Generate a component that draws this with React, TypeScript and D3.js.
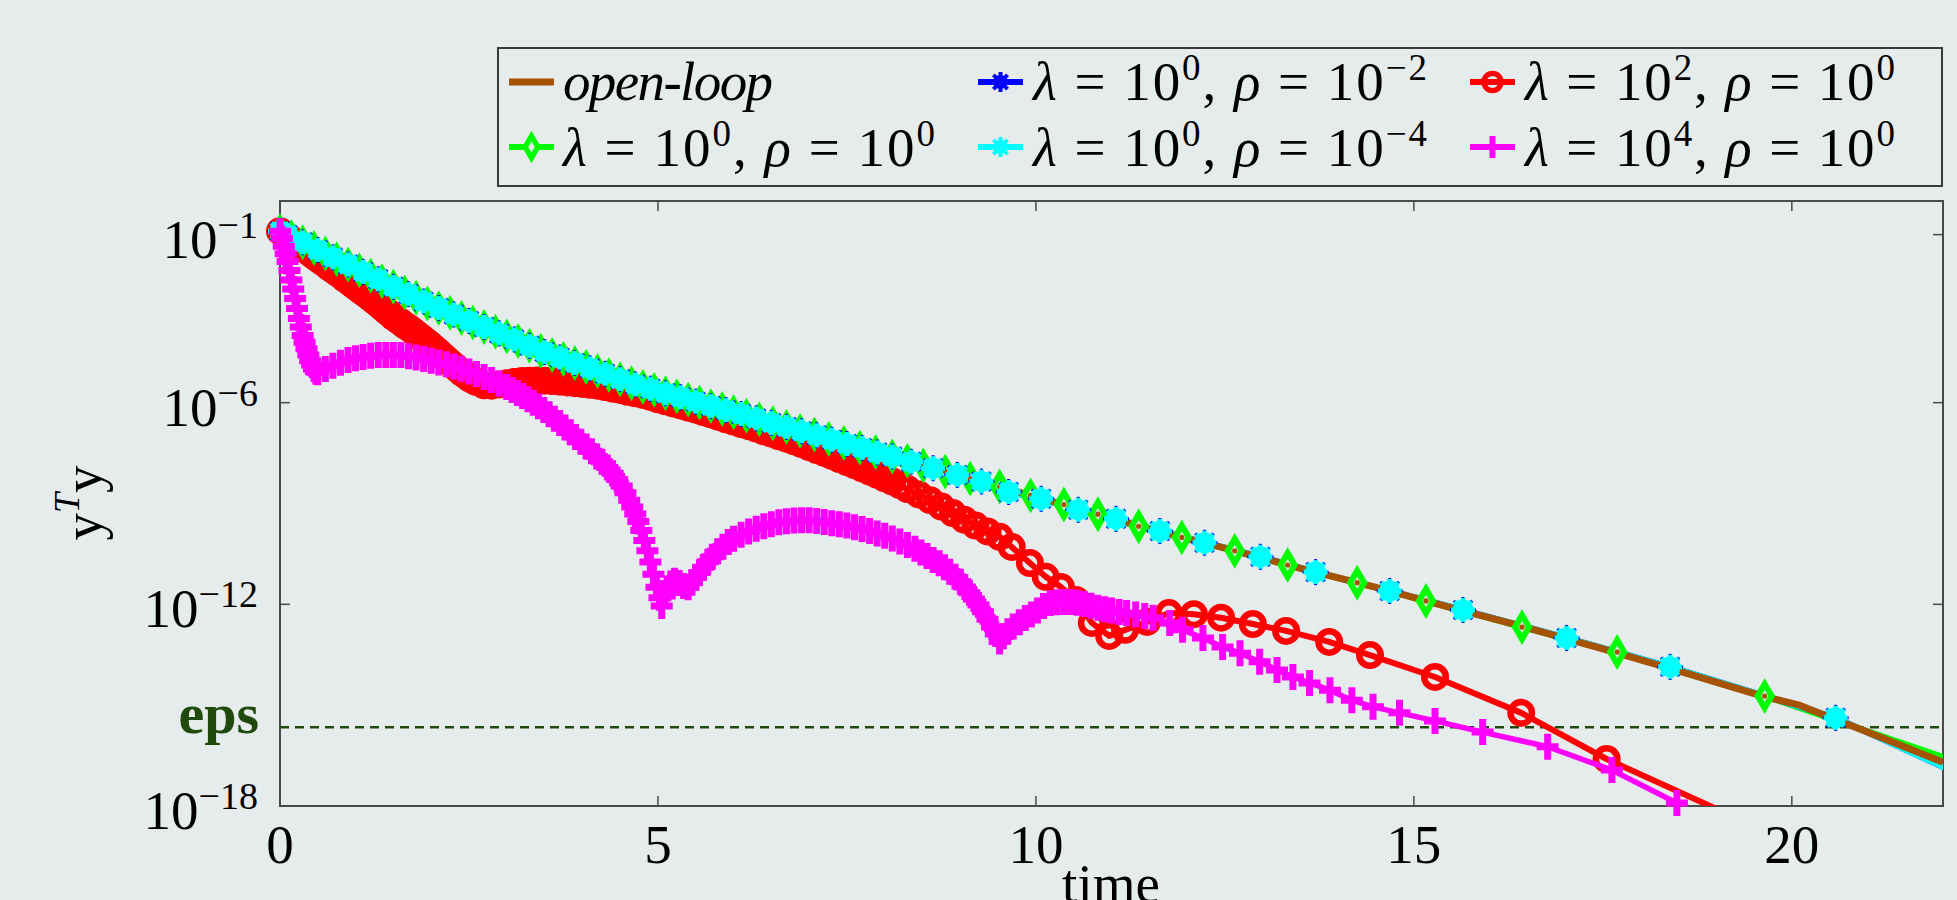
import React from "react";
import * as d3 from "d3";

// ---- data ----
const xTicks = [0, 5, 10, 15, 20];
const yTicks = [1e-1, 1e-6, 1e-12, 1e-18];
const yTickLabels = ["\u22121", "\u22126", "\u221212", "\u221218"];
const epsValue = 2.22e-16;

// open-loop (line only)
const openLoopT = [0, 0.5, 1, 1.5, 2, 2.5, 3, 3.5, 4, 4.5, 4.76, 5.5, 6.5, 7.5, 8.5, 9.5, 10.5, 11.5, 12.5, 13.5, 14.5, 15.5, 16.5, 17.5, 18.5, 19.6, 20.1, 21, 22];
const openLoopY = [0.126, 3.5e-2, 1.0e-2, 2.8e-3, 7.9e-4, 2.7e-4, 9.3e-5, 3.2e-5, 1.26e-5, 5.0e-6, 3.2e-6, 1.07e-6, 2.5e-7, 5.9e-8, 1.38e-8, 3.2e-9, 7.6e-10, 1.74e-10, 4.7e-11, 1.17e-11, 3.2e-12, 7.9e-13, 2.0e-13, 4.7e-14, 1.05e-14, 1.9e-15, 1.0e-15, 1.58e-16, 2.0e-17];

// lambda = 1, rho = 1 (green diamonds)
const rho0T = [0, 0.15, 0.3, 0.45, 0.6, 0.75, 0.9, 1.05, 1.2, 1.35, 1.5, 1.65, 1.8, 1.95, 2.1, 2.25, 2.4, 2.55, 2.7, 2.85, 3.0, 3.15, 3.3, 3.45, 3.6, 3.75, 3.9, 4.05, 4.2, 4.35, 4.5, 4.65, 4.8, 4.95, 5.1, 5.25, 5.4, 5.55, 5.7, 5.85, 6.0, 6.17, 6.34, 6.52, 6.7, 6.88, 7.07, 7.26, 7.46, 7.67, 7.88, 8.1, 8.3, 8.51, 8.8, 9.13, 9.52, 9.93, 10.37, 10.82, 11.36, 11.93, 12.63, 13.33, 14.25, 15.16, 16.43, 17.69, 19.64, 22.4];
const rho0Y = [0.126, 8.5e-2, 5.9e-2, 4.0e-2, 2.75e-2, 1.86e-2, 1.29e-2, 8.7e-3, 6.0e-3, 4.1e-3, 2.8e-3, 1.9e-3, 1.32e-3, 8.9e-4, 6.5e-4, 4.7e-4, 3.3e-4, 2.4e-4, 1.78e-4, 1.29e-4, 9.3e-5, 6.8e-5, 4.9e-5, 3.5e-5, 2.6e-5, 2.0e-5, 1.51e-5, 1.15e-5, 8.7e-6, 6.6e-6, 5.0e-6, 3.8e-6, 2.95e-6, 2.4e-6, 1.9e-6, 1.55e-6, 1.23e-6, 1.0e-6, 7.9e-7, 6.5e-7, 5.2e-7, 4.1e-7, 3.2e-7, 2.45e-7, 1.9e-7, 1.45e-7, 1.12e-7, 8.3e-8, 6.3e-8, 4.6e-8, 3.4e-8, 2.5e-8, 1.86e-8, 1.35e-8, 8.9e-9, 5.5e-9, 3.2e-9, 1.74e-9, 9.3e-10, 4.8e-10, 2.1e-10, 9.8e-11, 3.9e-11, 1.48e-11, 4.4e-12, 1.26e-12, 2.1e-13, 3.8e-14, 1.86e-15, 1.41e-17];

// lambda = 1, rho = 1e-4 (cyan)
const rho4T = [0, 0.1, 0.3, 0.5, 0.7, 0.9, 1.1, 1.3, 1.5, 1.7, 1.9, 2.1, 2.3, 2.5, 2.7, 2.9, 3.1, 3.3, 3.5, 3.7, 3.9, 4.1, 4.3, 4.5, 4.7, 4.9, 5.1, 5.3, 5.5, 5.7, 5.9, 6.1, 6.3, 6.5, 6.7, 6.9, 7.1, 7.3, 7.5, 7.7, 7.9, 8.1, 8.35, 8.64, 8.96, 9.28, 9.64, 10.07, 10.56, 11.06, 11.64, 12.23, 12.97, 13.7, 14.68, 15.65, 17.02, 18.39, 20.58, 22.4];
const rho4Y = [0.126, 9.8e-2, 5.9e-2, 3.5e-2, 2.1e-2, 1.29e-2, 7.8e-3, 4.7e-3, 2.8e-3, 1.7e-3, 1.02e-3, 6.5e-4, 4.2e-4, 2.7e-4, 1.78e-4, 1.15e-4, 7.6e-5, 4.9e-5, 3.2e-5, 2.2e-5, 1.51e-5, 1.05e-5, 7.2e-6, 5.0e-6, 3.5e-6, 2.6e-6, 1.9e-6, 1.45e-6, 1.07e-6, 7.9e-7, 6.0e-7, 4.6e-7, 3.4e-7, 2.5e-7, 1.9e-7, 1.41e-7, 1.07e-7, 7.9e-8, 5.9e-8, 4.5e-8, 3.3e-8, 2.5e-8, 1.74e-8, 1.12e-8, 7.1e-9, 4.5e-9, 2.2e-9, 1.38e-9, 6.5e-10, 3.5e-10, 1.51e-10, 6.8e-11, 2.6e-11, 9.1e-12, 2.5e-12, 6.8e-13, 1.0e-13, 1.38e-14, 4.2e-16, 5.6e-18];

// lambda = 1, rho = 1e-2 (blue) lies exactly under the rho = 1e-4 curve in the figure
const rho2T = rho4T;
const rho2Y = rho4Y;

// lambda = 1e2, rho = 1 (red circles)
const lam2T = [0, 0.05, 0.1, 0.15, 0.2, 0.25, 0.3, 0.35, 0.4, 0.45, 0.5, 0.55, 0.6, 0.65, 0.7, 0.75, 0.8, 0.85, 0.9, 0.95, 1.0, 1.05, 1.1, 1.15, 1.2, 1.25, 1.3, 1.35, 1.4, 1.45, 1.5, 1.55, 1.6, 1.65, 1.7, 1.75, 1.8, 1.85, 1.9, 1.95, 2.0, 2.05, 2.1, 2.15, 2.2, 2.25, 2.3, 2.35, 2.4, 2.45, 2.5, 2.55, 2.6, 2.7, 2.8, 2.9, 3.0, 3.1, 3.2, 3.3, 3.4, 3.5, 3.6, 3.7, 3.8, 3.9, 4.0, 4.1, 4.2, 4.3, 4.4, 4.5, 4.6, 4.7, 4.8, 4.9, 5.0, 5.1, 5.2, 5.3, 5.4, 5.5, 5.6, 5.7, 5.8, 5.9, 6.0, 6.1, 6.2, 6.3, 6.4, 6.5, 6.6, 6.7, 6.8, 6.9, 7.0, 7.1, 7.2, 7.3, 7.4, 7.5, 7.6, 7.7, 7.8, 7.9, 8.0, 8.1, 8.2, 8.3, 8.45, 8.6, 8.75, 8.9, 9.05, 9.2, 9.36, 9.52, 9.68, 9.92, 10.13, 10.33, 10.53, 10.74, 10.97, 11.18, 11.47, 11.76, 12.09, 12.45, 12.87, 13.31, 13.88, 14.42, 15.28, 16.42, 17.55, 19.8];
const lam2Y = [0.126, 1.05e-1, 8.7e-2, 7.2e-2, 6.0e-2, 5.0e-2, 4.2e-2, 3.4e-2, 2.8e-2, 2.3e-2, 1.9e-2, 1.58e-2, 1.32e-2, 1.07e-2, 8.9e-3, 7.4e-3, 6.2e-3, 5.0e-3, 4.2e-3, 3.4e-3, 2.8e-3, 2.3e-3, 1.9e-3, 1.58e-3, 1.29e-3, 1.05e-3, 8.5e-4, 6.9e-4, 5.5e-4, 4.5e-4, 3.5e-4, 2.95e-4, 2.45e-4, 2.0e-4, 1.7e-4, 1.41e-4, 1.15e-4, 9.3e-5, 7.6e-5, 6.2e-5, 5.0e-5, 4.0e-5, 3.2e-5, 2.5e-5, 2.0e-5, 1.58e-5, 1.26e-5, 1.0e-5, 7.9e-6, 6.6e-6, 5.4e-6, 4.7e-6, 4.1e-6, 3.3e-6, 3.2e-6, 3.5e-6, 3.8e-6, 4.1e-6, 4.4e-6, 4.5e-6, 4.6e-6, 4.5e-6, 4.4e-6, 4.2e-6, 4.0e-6, 3.8e-6, 3.6e-6, 3.4e-6, 3.2e-6, 2.9e-6, 2.6e-6, 2.4e-6, 2.1e-6, 1.9e-6, 1.7e-6, 1.48e-6, 1.26e-6, 1.1e-6, 9.5e-7, 8.3e-7, 7.1e-7, 6.2e-7, 5.2e-7, 4.5e-7, 3.8e-7, 3.2e-7, 2.75e-7, 2.3e-7, 2.0e-7, 1.7e-7, 1.41e-7, 1.2e-7, 1.0e-7, 8.5e-8, 7.1e-8, 5.9e-8, 4.8e-8, 3.9e-8, 3.2e-8, 2.6e-8, 2.1e-8, 1.7e-8, 1.38e-8, 1.12e-8, 8.9e-9, 7.1e-9, 5.6e-9, 4.5e-9, 3.5e-9, 2.7e-9, 1.86e-9, 1.26e-9, 8.1e-10, 5.2e-10, 3.3e-10, 2.2e-10, 1.48e-10, 1.02e-10, 5.1e-11, 1.7e-11, 6.6e-12, 3.3e-12, 1.35e-12, 2.8e-13, 1.15e-13, 1.74e-13, 3.0e-13, 5.5e-13, 5.1e-13, 4.0e-13, 2.6e-13, 1.62e-13, 7.6e-14, 3.1e-14, 6.9e-15, 5.9e-16, 2.5e-17, 1.26e-19];

// lambda = 1e4, rho = 1 (magenta plus)
const lam4T = [0, 0.025, 0.05, 0.075, 0.1, 0.125, 0.15, 0.175, 0.2, 0.225, 0.25, 0.275, 0.3, 0.325, 0.35, 0.375, 0.4, 0.425, 0.45, 0.475, 0.5, 0.6, 0.7, 0.8, 0.9, 1.0, 1.1, 1.2, 1.3, 1.4, 1.5, 1.6, 1.7, 1.8, 1.9, 2.0, 2.1, 2.2, 2.3, 2.4, 2.5, 2.6, 2.7, 2.8, 2.9, 3.0, 3.07, 3.14, 3.21, 3.28, 3.35, 3.42, 3.49, 3.56, 3.63, 3.7, 3.77, 3.84, 3.91, 3.98, 4.05, 4.12, 4.19, 4.26, 4.33, 4.4, 4.46, 4.52, 4.57, 4.62, 4.66, 4.7, 4.74, 4.78, 4.82, 4.86, 4.9, 4.94, 4.98, 5.02, 5.05, 5.09, 5.13, 5.17, 5.22, 5.28, 5.34, 5.4, 5.45, 5.5, 5.55, 5.6, 5.66, 5.72, 5.79, 5.86, 5.93, 6.0, 6.1, 6.2, 6.3, 6.4, 6.5, 6.6, 6.7, 6.8, 6.9, 7.0, 7.1, 7.2, 7.3, 7.4, 7.5, 7.6, 7.7, 7.8, 7.9, 8.0, 8.1, 8.2, 8.3, 8.4, 8.48, 8.56, 8.64, 8.72, 8.79, 8.86, 8.93, 9.0, 9.06, 9.12, 9.18, 9.24, 9.3, 9.36, 9.42, 9.47, 9.52, 9.57, 9.63, 9.7, 9.78, 9.86, 9.94, 10.02, 10.1, 10.19, 10.28, 10.37, 10.46, 10.55, 10.64, 10.73, 10.82, 10.91, 11.0, 11.1, 11.2, 11.32, 11.44, 11.55, 11.77, 11.94, 12.21, 12.47, 12.7, 12.96, 13.19, 13.4, 13.62, 13.89, 14.18, 14.46, 14.81, 15.28, 15.91, 16.77, 17.62, 18.48, 19.4];
const lam4Y = [0.126, 7.6e-2, 4.5e-2, 2.7e-2, 1.58e-2, 8.5e-3, 4.5e-3, 2.4e-3, 1.26e-3, 6.3e-4, 3.2e-4, 1.78e-4, 1.0e-4, 6.3e-5, 4.0e-5, 2.6e-5, 1.78e-5, 1.32e-5, 1.0e-5, 8.3e-6, 8.1e-6, 1.0e-5, 1.26e-5, 1.55e-5, 1.86e-5, 2.1e-5, 2.3e-5, 2.5e-5, 2.6e-5, 2.6e-5, 2.6e-5, 2.6e-5, 2.4e-5, 2.2e-5, 2.0e-5, 1.78e-5, 1.58e-5, 1.38e-5, 1.2e-5, 1.02e-5, 8.5e-6, 7.1e-6, 5.8e-6, 4.7e-6, 3.7e-6, 2.9e-6, 2.4e-6, 1.95e-6, 1.58e-6, 1.26e-6, 1.0e-6, 7.8e-7, 6.0e-7, 4.5e-7, 3.3e-7, 2.5e-7, 1.82e-7, 1.32e-7, 9.5e-8, 6.9e-8, 5.0e-8, 3.6e-8, 2.5e-8, 1.74e-8, 1.17e-8, 7.9e-9, 5.2e-9, 3.3e-9, 2.1e-9, 1.26e-9, 7.9e-10, 4.9e-10, 2.9e-10, 1.58e-10, 7.9e-11, 3.9e-11, 1.82e-11, 7.9e-12, 3.2e-12, 1.58e-12, 8.9e-13, 1.78e-12, 3.0e-12, 4.2e-12, 5.0e-12, 4.3e-12, 3.5e-12, 3.2e-12, 4.4e-12, 6.3e-12, 8.9e-12, 1.26e-11, 1.86e-11, 2.6e-11, 3.8e-11, 5.2e-11, 7.1e-11, 8.9e-11, 1.17e-10, 1.48e-10, 1.78e-10, 2.1e-10, 2.4e-10, 2.75e-10, 2.95e-10, 3.1e-10, 3.2e-10, 3.2e-10, 3.0e-10, 2.8e-10, 2.6e-10, 2.4e-10, 2.2e-10, 1.95e-10, 1.74e-10, 1.51e-10, 1.29e-10, 1.1e-10, 9.1e-11, 7.4e-11, 5.8e-11, 4.5e-11, 3.5e-11, 2.75e-11, 2.1e-11, 1.66e-11, 1.26e-11, 9.3e-12, 6.6e-12, 4.7e-12, 3.3e-12, 2.2e-12, 1.45e-12, 9.5e-13, 6.0e-13, 3.6e-13, 2.1e-13, 1.32e-13, 7.9e-14, 1.12e-13, 1.58e-13, 2.2e-13, 2.95e-13, 3.9e-13, 5.0e-13, 6.6e-13, 8.9e-13, 1.1e-12, 1.15e-12, 1.17e-12, 1.17e-12, 1.12e-12, 1.02e-12, 9.1e-13, 7.9e-13, 7.1e-13, 6.5e-13, 5.9e-13, 5.5e-13, 5.0e-13, 4.5e-13, 4.0e-13, 2.8e-13, 1.74e-13, 1.0e-13, 5.4e-14, 3.5e-14, 1.95e-14, 1.12e-14, 6.9e-15, 4.6e-15, 2.8e-15, 1.41e-15, 8.9e-16, 5.9e-16, 3.4e-16, 1.58e-16, 5.8e-17, 1.17e-17, 1.23e-18, 1.0e-19];

// ---- look ----
const BG = "#e6ecec";
const BROWN = "#a65300";
const GREEN = "#00ff00";
const BLUE = "#0000ff";
const CYAN = "#00ffff";
const RED = "#ff0000";
const MAGENTA = "#ff00ff";
const EPS_GREEN = "#1f4a0c";
const FONT = "'Liberation Serif', 'Times New Roman', serif";

const W = 1957, H = 900;
const plot = { left: 280, right: 1943, top: 201, bottom: 806 };

const x = d3.scaleLinear().domain([0, 22]).range([plot.left, plot.right]);
const y = d3.scaleLog().domain([1e-18, 1]).range([plot.bottom, plot.top]);

const pathOf = (ts: number[], ys: number[]) =>
  d3.line<number>().x((i) => x(ts[i])).y((i) => y(ys[i]))(d3.range(ts.length)) || "";

const inside = (t: number, v: number) => t >= 0 && t <= 22 && v >= 1e-18 && v <= 1;

// marker shapes
function Diamond({ cx, cy, k = 1, dot = true }: any) {
  return (
    <g>
      <path d={`M${cx},${cy - 12 * k}L${cx + 7 * k},${cy}L${cx},${cy + 12 * k}L${cx - 7 * k},${cy}Z`}
        fill={BG} stroke={GREEN} strokeWidth={6 * k} />
      {dot && <circle cx={cx} cy={cy} r={2.6} fill={BROWN} />}
    </g>
  );
}

function Star({ cx, cy, r, w, color, blob = 0 }: any) {
  const a = [0, 45, 90, 135].map((d) => (d * Math.PI) / 180);
  return (
    <g>
      {blob > 0 && <circle cx={cx} cy={cy} r={blob} fill={color} />}
      {a.map((ang, i) => (
        <line key={i} x1={cx - r * Math.cos(ang)} y1={cy - r * Math.sin(ang)}
          x2={cx + r * Math.cos(ang)} y2={cy + r * Math.sin(ang)} stroke={color} strokeWidth={w} />
      ))}
    </g>
  );
}

function Ring({ cx, cy, k = 1 }: any) {
  return <circle cx={cx} cy={cy} r={10.75 * k} fill="none" stroke={RED} strokeWidth={6.5 * k} />;
}

function Plus({ cx, cy, k = 1 }: any) {
  return (
    <path d={`M${cx - 11 * k},${cy}H${cx + 11 * k}M${cx},${cy - 13 * k}V${cy + 13 * k}`}
      stroke={MAGENTA} strokeWidth={7 * k} fill="none" />
  );
}

function marks(ts: number[], ys: number[], draw: (cx: number, cy: number) => any) {
  return ts.map((t, i) => (inside(t, ys[i]) ? <g key={i}>{draw(x(t), y(ys[i]))}</g> : null));
}

function MathLabel({ px, py, lam, rho, len }: any) {
  return (
    <text x={px} y={py} fontSize={55} fontFamily={FONT} fill="#000" textLength={len} lengthAdjust="spacing">
      <tspan fontStyle="italic">λ</tspan>
      <tspan>{" = 10"}</tspan>
      <tspan dy={-20} fontSize={37}>{lam}</tspan>
      <tspan dy={20}>{", "}</tspan>
      <tspan fontStyle="italic">ρ</tspan>
      <tspan>{" = 10"}</tspan>
      <tspan dy={-20} fontSize={37}>{rho}</tspan>
    </text>
  );
}

export default function App() {
  const row1 = 100, row2 = 166;
  const col = [509, 978, 1470];
  const seg = 45;
  const my1 = row1 - 18, my2 = row2 - 19;

  return (
    <svg width={W} height={H} style={{ position: "absolute", left: 0, top: 0 }} fontFamily={FONT}>
      <rect width={W} height={H} fill={BG} />
      <defs>
        <clipPath id="plotClip">
          <rect x={plot.left} y={plot.top} width={plot.right - plot.left} height={plot.bottom - plot.top} />
        </clipPath>
      </defs>

      {/* axes box */}
      <rect x={plot.left} y={plot.top} width={plot.right - plot.left} height={plot.bottom - plot.top}
        fill="none" stroke="#4a4a4a" strokeWidth={2} />
      {xTicks.map((t) => (
        <g key={t}>
          <line x1={x(t)} x2={x(t)} y1={plot.bottom} y2={plot.bottom - 10} stroke="#4a4a4a" strokeWidth={1.5} />
          <line x1={x(t)} x2={x(t)} y1={plot.top} y2={plot.top + 10} stroke="#4a4a4a" strokeWidth={1.5} />
          <text x={x(t)} y={863} textAnchor="middle" fontSize={55}>{t}</text>
        </g>
      ))}
      {yTicks.map((v, i) => (
        <g key={v}>
          <line x1={plot.left} x2={plot.left + 10} y1={y(v)} y2={y(v)} stroke="#4a4a4a" strokeWidth={1.5} />
          <line x1={plot.right} x2={plot.right - 10} y1={y(v)} y2={y(v)} stroke="#4a4a4a" strokeWidth={1.5} />
          <text x={258} y={y(v) + 23} textAnchor="end" fontSize={55}>
            10<tspan dy={-20} fontSize={38}>{yTickLabels[i]}</tspan>
          </text>
        </g>
      ))}

      {/* eps threshold */}
      <line x1={plot.left} x2={plot.right} y1={y(epsValue)} y2={y(epsValue)}
        stroke={EPS_GREEN} strokeWidth={2.5} strokeDasharray="9 6" />
      <text x={259} y={y(epsValue) + 6} textAnchor="end" fontSize={58} fontWeight="bold" fill={EPS_GREEN}>eps</text>

      {/* series */}
      <g clipPath="url(#plotClip)" fill="none" strokeLinejoin="round">
        <path d={pathOf(lam2T, lam2Y)} stroke={RED} strokeWidth={6} />
        <path d={pathOf(rho0T, rho0Y)} stroke={GREEN} strokeWidth={6} />
        <path d={pathOf(rho2T, rho2Y)} stroke={BLUE} strokeWidth={6} />
        <path d={pathOf(rho4T, rho4Y)} stroke={CYAN} strokeWidth={6} />
        <path d={pathOf(openLoopT, openLoopY)} stroke={BROWN} strokeWidth={7} />
      </g>
      <g>{marks(lam2T, lam2Y, (cx, cy) => <Ring cx={cx} cy={cy} />)}</g>
      <g>{marks(rho0T, rho0Y, (cx, cy) => <Diamond cx={cx} cy={cy} />)}</g>
      <g>{marks(rho2T, rho2Y, (cx, cy) => <Star cx={cx} cy={cy} r={13} w={3} color={BLUE} />)}</g>
      <g>{marks(rho4T, rho4Y, (cx, cy) => <Star cx={cx} cy={cy} r={12} w={5} color={CYAN} blob={10.5} />)}</g>
      <g clipPath="url(#plotClip)" fill="none">
        <path d={pathOf(lam4T, lam4Y)} stroke={MAGENTA} strokeWidth={5.5} strokeLinejoin="round" />
      </g>
      <g>{marks(lam4T, lam4Y, (cx, cy) => <Plus cx={cx} cy={cy} />)}</g>

      {/* axis labels */}
      <text x={1111} y={902} textAnchor="middle" fontSize={55}>time</text>
      <text transform="translate(101,503) rotate(-90)" textAnchor="middle" fontSize={55}>
        y<tspan dy={-22} fontSize={36} fontStyle="italic">T</tspan><tspan dy={22}>y</tspan>
      </text>

      {/* legend */}
      <rect x={498} y={48} width={1444} height={138} fill={BG} stroke="#3a3a3a" strokeWidth={2} />
      {/* row 1 */}
      <line x1={col[0]} x2={col[0] + seg} y1={my1} y2={my1} stroke={BROWN} strokeWidth={7} />
      <text x={563} y={row1} fontSize={55} fontStyle="italic" textLength={210} lengthAdjust="spacing">open-loop</text>

      <line x1={col[1]} x2={col[1] + seg} y1={my1} y2={my1} stroke={BLUE} strokeWidth={6} />
      <Star cx={col[1] + seg / 2} cy={my1} r={10} w={4} color={BLUE} blob={7} />
      <MathLabel px={1033} py={row1} lam="0" rho={"\u22122"} len={394} />

      <line x1={col[2]} x2={col[2] + seg} y1={my1} y2={my1} stroke={RED} strokeWidth={6} />
      <Ring cx={col[2] + seg / 2} cy={my1} k={0.8} />
      <MathLabel px={1525} py={row1} lam="2" rho="0" len={370} />

      {/* row 2 */}
      <line x1={col[0]} x2={col[0] + seg} y1={my2} y2={my2} stroke={GREEN} strokeWidth={6} />
      <Diamond cx={col[0] + seg / 2} cy={my2} k={0.9} dot={false} />
      <MathLabel px={563} py={row2} lam="0" rho="0" len={372} />

      <line x1={col[1]} x2={col[1] + seg} y1={my2} y2={my2} stroke={CYAN} strokeWidth={6} />
      <Star cx={col[1] + seg / 2} cy={my2} r={10} w={4} color={CYAN} blob={7} />
      <MathLabel px={1033} py={row2} lam="0" rho={"\u22124"} len={394} />

      <line x1={col[2]} x2={col[2] + seg} y1={my2} y2={my2} stroke={MAGENTA} strokeWidth={6} />
      <Plus cx={col[2] + seg / 2} cy={my2} k={0.85} />
      <MathLabel px={1525} py={row2} lam="4" rho="0" len={370} />
    </svg>
  );
}
